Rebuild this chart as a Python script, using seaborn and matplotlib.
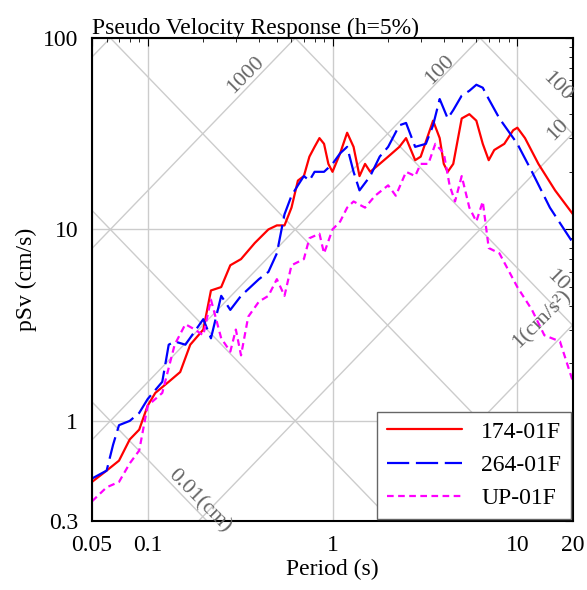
import numpy as np
import pandas as pd
import matplotlib
matplotlib.use('Agg')
import matplotlib.pyplot as plt
import seaborn as sns

# periods (s) and pSv (cm/s)
t_red = [0.05, 0.06, 0.07, 0.08, 0.09, 0.1, 0.11, 0.13, 0.15, 0.17, 0.2, 0.22, 0.25, 0.28, 0.32, 0.38, 0.45, 0.5, 0.55,
         0.6, 0.65, 0.7, 0.75, 0.8, 0.85, 0.9, 0.95, 1.0, 1.1, 1.2, 1.3, 1.4, 1.5, 1.6, 1.8, 2.0, 2.3, 2.5, 2.8, 3.0,
         3.5, 3.8, 4.0, 4.2, 4.5, 5.0, 5.5, 6.0, 6.5, 7.0, 7.5, 8.5, 9.5, 10, 11, 13, 16, 20]
v_red = [0.48, 0.55, 0.62, 0.8, 0.9, 1.2, 1.4, 1.6, 1.8, 2.5, 3.0, 4.8, 5.0, 6.5, 7.0, 8.5, 10, 10.5, 10.5,
         13, 18, 19, 24, 27, 30, 28, 22, 20, 25, 32, 27, 19, 22, 20, 22, 24, 27, 30, 23, 24,
         37, 30, 22, 20, 22, 38, 40, 37, 28, 23, 26, 28, 33, 34, 30, 22, 16, 12]

t_blue = [0.05, 0.06, 0.065, 0.07, 0.08, 0.09, 0.1, 0.12, 0.13, 0.14, 0.16, 0.2, 0.22, 0.25, 0.28, 0.32, 0.4, 0.45,
          0.5, 0.55, 0.6, 0.65, 0.7, 0.75, 0.8, 0.9, 1.0, 1.1, 1.2, 1.3, 1.4, 1.6, 1.8, 2.0, 2.3, 2.5, 2.8, 3.2,
          3.5, 3.8, 4.2, 4.5, 5.0, 5.5, 6.0, 6.5, 7, 8, 10, 12, 15, 20]
v_blue = [0.5, 0.55, 0.75, 0.95, 1.0, 1.1, 1.3, 1.6, 2.5, 2.6, 2.5, 3.4, 2.7, 4.5, 3.8, 4.5, 5.5, 6,
          7.5, 12, 15, 17, 19, 18, 20, 20, 22, 25, 27, 20, 16, 19, 24, 27, 35, 36, 27, 28,
          35, 48, 38, 42, 50, 53, 57, 55, 48, 38, 28, 20, 13, 8.5]

t_mag = [0.05, 0.06, 0.07, 0.08, 0.09, 0.1, 0.12, 0.14, 0.16, 0.18, 0.2, 0.22, 0.25, 0.28, 0.3, 0.32, 0.35, 0.4,
         0.45, 0.5, 0.55, 0.6, 0.7, 0.75, 0.85, 0.9, 1.0, 1.1, 1.2, 1.3, 1.5, 1.7, 2.0, 2.2, 2.5, 2.8, 3.0, 3.3,
         3.6, 4.0, 4.3, 4.6, 5.0, 5.5, 6.0, 6.5, 7, 8, 10, 12, 14, 17, 20]
v_mag = [0.38, 0.45, 0.48, 0.6, 0.7, 1.2, 1.4, 2.5, 3.2, 3.0, 2.8, 4.3, 2.7, 2.3, 3.0, 2.2, 3.5, 4.2,
         4.5, 5.5, 4.5, 6.5, 7, 9, 9.5, 7.5, 10, 11, 13, 14, 13, 15, 17, 15, 20, 19, 22, 22,
         28, 25, 17, 14, 19, 13, 11, 14, 8, 7.5, 5, 3.8, 2.8, 2.6, 1.6]

names = ['174-01F', '264-01F', 'UP-01F']
accel_levels = [0.1, 1, 10, 100, 1000, 10000, 100000]   # cm/s^2
disp_levels = [0.0001, 0.001, 0.01, 0.1, 1, 10, 100, 1000]  # cm

df = pd.concat([
    pd.DataFrame({'T': t_red, 'Sv': v_red, 'site': names[0]}),
    pd.DataFrame({'T': t_blue, 'Sv': v_blue, 'site': names[1]}),
    pd.DataFrame({'T': t_mag, 'Sv': v_mag, 'site': names[2]}),
])

sns.set_style('white')
plt.rcParams['font.family'] = ['Liberation Serif', 'DejaVu Serif']
plt.rcParams['text.color'] = 'black'
plt.rcParams['axes.labelcolor'] = 'black'
plt.rcParams['xtick.color'] = 'black'
plt.rcParams['ytick.color'] = 'black'

fig = plt.figure(figsize=(5.87, 5.90), dpi=100)
ax = fig.add_axes([92 / 587, 1 - 521 / 590, 481 / 587, 483 / 590])
xmin, xmax, ymin, ymax = 0.05, 20, 0.3, 100

# tripartite grid
tt = np.logspace(np.log10(xmin), np.log10(xmax), 50)
for a in accel_levels:
    ax.plot(tt, a * tt / (2 * np.pi), color='#cccccc', lw=1, zorder=0)
for d in disp_levels:
    ax.plot(tt, 2 * np.pi * d / tt, color='#cccccc', lw=1, zorder=0)

sns.lineplot(data=df, x='T', y='Sv', hue='site', style='site', sort=False,
             palette=['red', 'blue', 'magenta'],
             dashes=[(None, None), (10, 3), (3, 2)], linewidth=1.6, ax=ax)

ax.set_xscale('log')
ax.set_yscale('log')
ax.set_xlim(xmin, xmax)
ax.set_ylim(ymin, ymax)
ax.set_xticks([0.05, 0.1, 1, 10, 20])
ax.set_xticklabels(['0.05', '0.1', '1', '10', '20'])
ax.set_yticks([0.3, 1, 10, 100])
ax.set_yticklabels(['0.3', '1', '10', '100'])
ax.grid(True, which='major', color='#cccccc', lw=1)
ax.tick_params(which='both', direction='in', top=True, right=True, labelsize=17)
ax.tick_params(which='major', length=6, pad=10)
ax.tick_params(which='minor', length=3)
for s in ax.spines.values():
    s.set_linewidth(1.5)
    s.set_color('black')

lab = dict(color='#666666', fontsize=16, ha='center', va='center')
ax.text(0.34, 64, '1000', rotation=45, **lab)
ax.text(3.8, 68, '100', rotation=45, **lab)
ax.text(16.5, 56, '100', rotation=-45, **lab)
ax.text(16.5, 33, '10', rotation=45, **lab)
ax.text(16.5, 5.4, '10', rotation=-45, **lab)
ax.text(13.5, 3.4, '1(cm/s²)', rotation=45, **lab)
ax.text(0.19, 0.38, '0.01(cm)', rotation=-45, **lab)
ax.text(2.3, 0.36, '0.1', rotation=-45, **lab)

ax.set_xlabel('Period (s)', fontsize=17, labelpad=2)
ax.set_ylabel('pSv (cm/s)', fontsize=17, labelpad=4)
ax.set_title('Pseudo Velocity Response (h=5%)', fontsize=17, loc='left', pad=3)

leg = ax.legend(loc='lower right', fontsize=17, frameon=True, fancybox=False,
                edgecolor='#666666', framealpha=1, handlelength=3.2, borderaxespad=0.1)
leg.set_title(None)

fig.savefig('out.png', dpi=100)
